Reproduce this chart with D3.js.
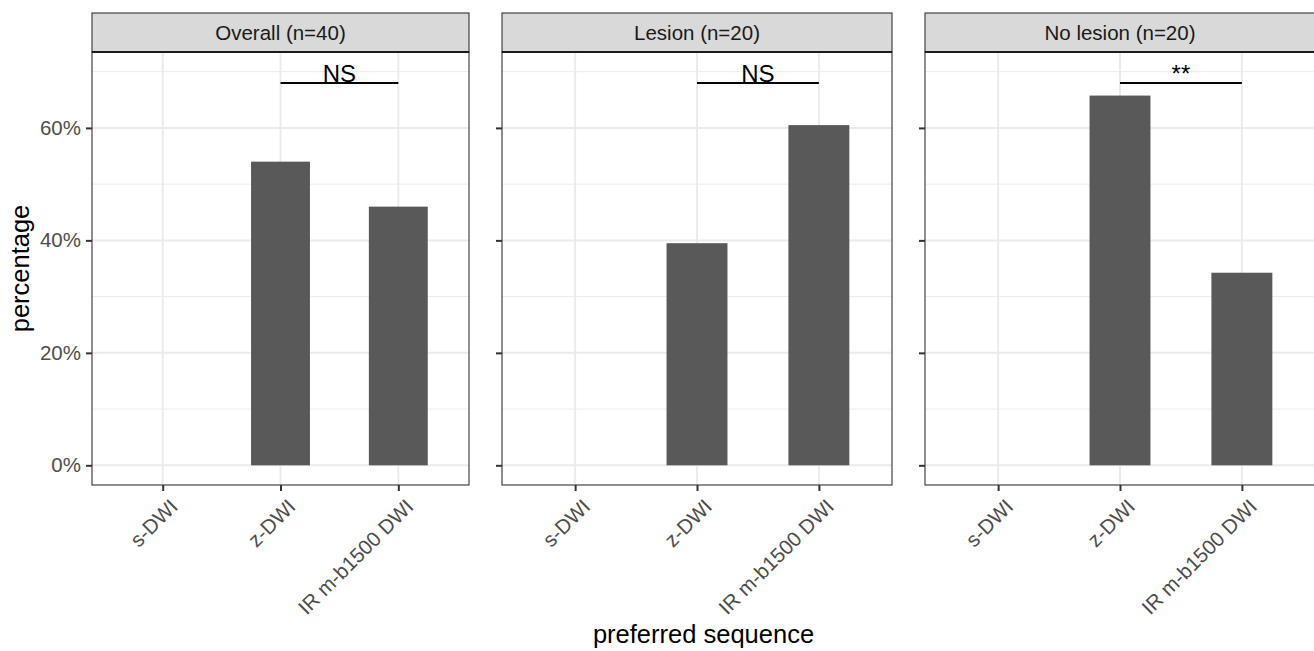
<!DOCTYPE html>
<html>
<head>
<meta charset="utf-8">
<script src="https://cdn.jsdelivr.net/npm/d3@7"></script>
<style>
  body { margin: 0; background: #fff; }
  text { font-family: "Liberation Sans", Arial, sans-serif; }
</style>
</head>
<body>
<div class="canvas"></div>
<script>
// data
const categories = ["s-DWI", "z-DWI", "IR m-b1500 DWI"];
const panelTitles = ["Overall (n=40)", "Lesion (n=20)", "No lesion (n=20)"];
const overallPct = [0, 0.54, 0.46];
const lesionPct = [0, 0.395, 0.605];
const noLesionPct = [0, 0.6575, 0.3425];
const sigLabels = ["NS", "NS", "**"];
const sigY = 0.68;
const yTicks = [0, 0.2, 0.4, 0.6];
const yMinor = [0.1, 0.3, 0.5, 0.7];

const panelValues = [overallPct, lesionPct, noLesionPct];

// layout
const width = 1314, height = 651;
const panelX = [[92, 469], [502, 892], [925, 1315]];
const stripTop = 13, panelTop = 52, panelBottom = 485;
const smallFont = 20.5, bigFont = 25.5;

const svg = d3.select('.canvas').append('svg')
    .attr('width', width)
    .attr('height', height);

// y scale: [0, 0.7] with 5% expansion
const yMax = 0.7, pad = yMax * 0.05;
const y = d3.scaleLinear()
    .domain([-pad, yMax + pad])
    .range([panelBottom, panelTop]);

panelTitles.forEach((title, i) => {
    const [x0, x1] = panelX[i];
    const x = d3.scalePoint().domain(categories).range([x0, x1]).padding(0.6);
    const barW = x.step() * 0.5;
    const g = svg.append('g');

    // grid
    g.selectAll('.minor').data(yMinor).enter().append('line')
        .attr('x1', x0).attr('x2', x1)
        .attr('y1', d => y(d)).attr('y2', d => y(d))
        .attr('stroke', '#ebebeb').attr('stroke-width', 1);
    g.selectAll('.major').data(yTicks).enter().append('line')
        .attr('x1', x0).attr('x2', x1)
        .attr('y1', d => y(d)).attr('y2', d => y(d))
        .attr('stroke', '#ebebeb').attr('stroke-width', 2);
    g.selectAll('.vgrid').data(categories).enter().append('line')
        .attr('x1', d => x(d)).attr('x2', d => x(d))
        .attr('y1', panelTop).attr('y2', panelBottom)
        .attr('stroke', '#ebebeb').attr('stroke-width', 2);

    // bars
    const vals = panelValues[i];
    g.selectAll('rect.bar').data(categories.filter((c, k) => vals[k] > 0)).enter()
        .append('rect')
        .attr('class', 'bar')
        .attr('x', d => x(d) - barW / 2)
        .attr('width', barW)
        .attr('y', d => y(vals[categories.indexOf(d)]))
        .attr('height', d => y(0) - y(vals[categories.indexOf(d)]))
        .attr('fill', '#595959');

    // significance bracket between z-DWI and IR
    g.append('line')
        .attr('x1', x(categories[1])).attr('x2', x(categories[2]))
        .attr('y1', y(sigY)).attr('y2', y(sigY))
        .attr('stroke', '#000').attr('stroke-width', 2);
    g.append('text')
        .attr('x', (x(categories[1]) + x(categories[2])) / 2)
        .attr('y', y(sigY) - 1)
        .attr('text-anchor', 'middle')
        .attr('font-size', 24)
        .attr('fill', '#000')
        .text(sigLabels[i]);

    // panel border
    g.append('rect')
        .attr('x', x0).attr('y', panelTop)
        .attr('width', x1 - x0).attr('height', panelBottom - panelTop)
        .attr('fill', 'none').attr('stroke', '#333').attr('stroke-width', 1.1);

    // strip
    g.append('rect')
        .attr('x', x0).attr('y', stripTop)
        .attr('width', x1 - x0).attr('height', panelTop - stripTop)
        .attr('fill', '#d9d9d9').attr('stroke', '#333').attr('stroke-width', 1.1);
    g.append('line')
        .attr('x1', x0).attr('x2', x1)
        .attr('y1', panelTop).attr('y2', panelTop)
        .attr('stroke', '#1a1a1a').attr('stroke-width', 2);
    g.append('text')
        .attr('x', (x0 + x1) / 2)
        .attr('y', (stripTop + panelTop) / 2)
        .attr('dy', '0.36em')
        .attr('text-anchor', 'middle')
        .attr('font-size', smallFont)
        .attr('fill', '#1a1a1a')
        .text(title);

    // y axis (ticks on every panel, labels on the first)
    const yAxis = d3.axisLeft(y).tickValues(yTicks).tickSize(6).tickPadding(5)
        .tickFormat(d => i === 0 ? d3.format('.0%')(d) : '');
    const yg = g.append('g').attr('transform', `translate(${x0},0)`).call(yAxis);
    yg.select('.domain').remove();
    yg.selectAll('line').attr('stroke', '#333').attr('stroke-width', 2);
    yg.selectAll('text').attr('fill', '#4d4d4d').attr('font-size', smallFont)
        .attr('font-family', '"Liberation Sans", Arial, sans-serif');

    // x axis, labels turned 45 degrees
    const xAxis = d3.axisBottom(x).tickSize(6).tickPadding(4);
    const xg = g.append('g').attr('transform', `translate(0,${panelBottom})`).call(xAxis);
    xg.select('.domain').remove();
    xg.selectAll('line').attr('stroke', '#333').attr('stroke-width', 2);
    xg.selectAll('text')
        .attr('fill', '#4d4d4d').attr('font-size', smallFont)
        .attr('font-family', '"Liberation Sans", Arial, sans-serif')
        .attr('text-anchor', 'end')
        .attr('y', 0).attr('dy', '0.75em')
        .attr('transform', 'translate(5,12) rotate(-45)');
});

// axis titles
svg.append('text')
    .attr('x', (panelX[0][0] + panelX[2][1]) / 2)
    .attr('y', 643)
    .attr('text-anchor', 'middle')
    .attr('font-size', bigFont)
    .attr('fill', '#000')
    .text('preferred sequence');

svg.append('text')
    .attr('transform', `translate(29,${(panelTop + panelBottom) / 2}) rotate(-90)`)
    .attr('text-anchor', 'middle')
    .attr('font-size', bigFont)
    .attr('fill', '#000')
    .text('percentage');
</script>
</body>
</html>
